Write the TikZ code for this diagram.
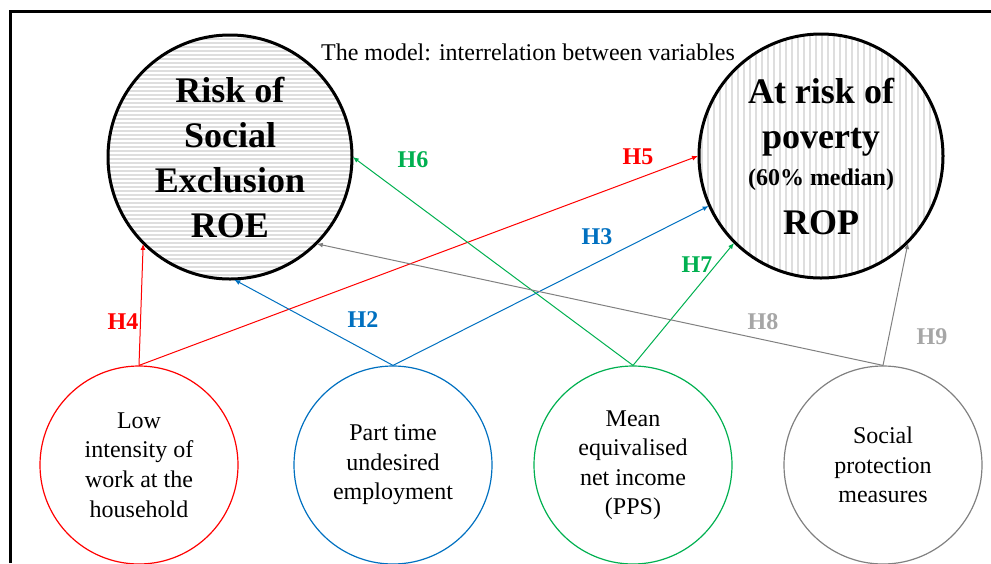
\documentclass[tikz,border=0pt]{standalone}
\usepackage{fontspec}
\setmainfont{LiberationSerif}[Extension=.ttf,UprightFont=*-Regular,BoldFont=*-Bold,ItalicFont=*-Italic,BoldItalicFont=*-BoldItalic]
\usetikzlibrary{arrows.meta,patterns.meta}
\definecolor{hred}{RGB}{255,0,0}
\definecolor{hblue}{RGB}{0,112,192}
\definecolor{hgreen}{RGB}{0,176,80}
\definecolor{hgrey}{RGB}{128,128,128}
\definecolor{hlabel}{RGB}{166,166,166}
\definecolor{stripe}{RGB}{222,222,222}

\tikzset{
  big/.style={circle,draw,line width=1.5pt,minimum size=122pt,inner sep=0pt,align=center,
    font=\fontsize{18}{22.5}\selectfont\bfseries},
  small/.style={circle,draw=#1,line width=0.6pt,minimum size=99pt,inner sep=0pt,align=center,
    font=\fontsize{12}{14.75}\selectfont},
  hyp/.style={-{Latex[length=3pt,width=2.5pt]},draw=#1,line width=0.5pt},
  hlab/.style={font=\fontsize{12}{14}\selectfont\bfseries,text=#1},
}

\begin{document}
\begin{tikzpicture}[x=0.5pt,y=-0.5pt]
\useasboundingbox (0,0) rectangle (991,563);
\draw[line width=1.5pt] (10,563) -- (10,11) -- (991,11);
\node[font=\fontsize{12}{14}\selectfont] (title) at (528,52) {The model: interrelation between variables};
% outcome variables
\node[big,pattern={Lines[angle=0,distance=2pt,line width=0.8pt]},pattern color=stripe] (roe) at (230,157)
  {Risk of\\Social\\Exclusion\\ROE};
\node[big,pattern={Lines[angle=90,distance=3pt,line width=1pt]},pattern color=stripe] (rop) at (821,156)
  {At risk of\\poverty\\[-4pt]{\fontsize{12}{14}\selectfont (60\% median)}\\[2pt]ROP};
% explanatory variables
\node[small=hred] (low) at (139,465) {Low\\intensity of\\work at the\\household};
\node[small=hblue] (part) at (393,465) {Part time\\undesired\\employment};
\node[small=hgreen] (income) at (633,465) {Mean\\equivalised\\net income\\(PPS)};
\node[small=hgrey] (social) at (883,465) {Social\\protection\\measures};
% hypotheses
\draw[hyp=hred] (low.north) -- (roe.225);
\draw[hyp=hred] (low.north) -- (rop.west);
\draw[hyp=hblue] (part.north) -- (roe.-88);
\draw[hyp=hblue] (part.north) -- (rop.204);
\draw[hyp=hgreen] (income.north) -- (roe.east);
\draw[hyp=hgreen] (income.north) -- (rop.225);
\draw[hyp=hgrey] (social.north) -- (roe.-45);
\draw[hyp=hgrey] (social.north) -- (rop.-45);
\node[hlab=hblue] (h2) at (363,320) {H2};
\node[hlab=hblue] (h3) at (597,237) {H3};
\node[hlab=hred] (h4) at (123,322) {H4};
\node[hlab=hred] (h5) at (638,157) {H5};
\node[hlab=hgreen] (h6) at (413,160) {H6};
\node[hlab=hgreen] (h7) at (697,265) {H7};
\node[hlab=hlabel] (h8) at (763,322) {H8};
\node[hlab=hlabel] (h9) at (932,337) {H9};
\end{tikzpicture}
\end{document}
